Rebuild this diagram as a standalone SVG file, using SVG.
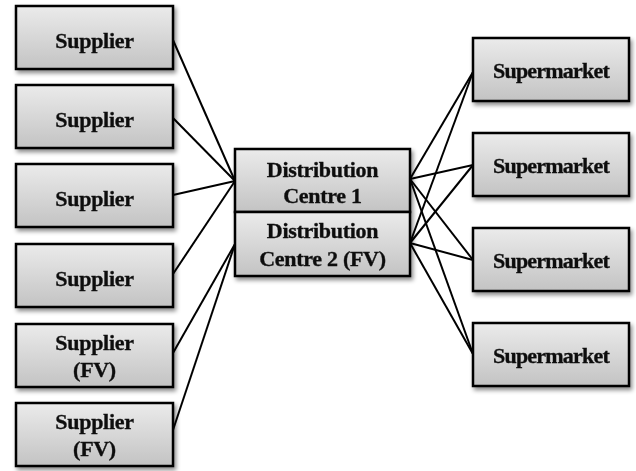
<svg xmlns="http://www.w3.org/2000/svg" width="636" height="471" viewBox="0 0 636 471">
<defs>
<linearGradient id="g" x1="0" y1="0" x2="0" y2="1">
<stop offset="0" stop-color="#ebebeb"/>
<stop offset="1" stop-color="#c3c3c3"/>
</linearGradient>
<filter id="sh" x="-10%" y="-10%" width="130%" height="140%">
<feDropShadow dx="2" dy="3" stdDeviation="2" flood-color="#000" flood-opacity="0.45"/>
</filter>
</defs>
<style>
.box{fill:url(#g);stroke:#000;stroke-width:2.5}
.t{font-family:"Liberation Serif",serif;font-weight:bold;font-size:22px;fill:#111;stroke:#111;stroke-width:0.35;text-anchor:middle;letter-spacing:-0.3px}
.m{letter-spacing:-0.8px}
.c{stroke:#000;stroke-width:2;fill:none}
</style>
<rect width="636" height="471" fill="#fff"/>
<g id="connectors">
<line class="c" x1="173" y1="40" x2="235" y2="181"/>
<line class="c" x1="173" y1="118" x2="235" y2="181"/>
<line class="c" x1="173" y1="195" x2="235" y2="181"/>
<line class="c" x1="173" y1="274" x2="235" y2="181"/>
<line class="c" x1="173" y1="353" x2="235" y2="244"/>
<line class="c" x1="173" y1="430" x2="235" y2="244"/>
<line class="c" x1="410" y1="179" x2="473" y2="72"/>
<line class="c" x1="410" y1="179" x2="473" y2="165"/>
<line class="c" x1="410" y1="179" x2="473" y2="260"/>
<line class="c" x1="410" y1="179" x2="473" y2="354"/>
<line class="c" x1="410" y1="243" x2="473" y2="72"/>
<line class="c" x1="410" y1="243" x2="473" y2="165"/>
<line class="c" x1="410" y1="243" x2="473" y2="260"/>
<line class="c" x1="410" y1="243" x2="473" y2="354"/>
</g>
<g id="supplier1" filter="url(#sh)"><rect class="box" x="16" y="6" width="157" height="63"/><text class="t" x="94.5" y="48">Supplier</text></g>
<g id="supplier2" filter="url(#sh)"><rect class="box" x="16" y="85" width="157" height="63"/><text class="t" x="94.5" y="127">Supplier</text></g>
<g id="supplier3" filter="url(#sh)"><rect class="box" x="16" y="164" width="157" height="63"/><text class="t" x="94.5" y="206">Supplier</text></g>
<g id="supplier4" filter="url(#sh)"><rect class="box" x="16" y="244" width="157" height="63"/><text class="t" x="94.5" y="286">Supplier</text></g>
<g id="supplier5" filter="url(#sh)"><rect class="box" x="16" y="324" width="157" height="63"/><text class="t" x="94.5" y="350">Supplier</text><text class="t" x="94.5" y="377">(FV)</text></g>
<g id="supplier6" filter="url(#sh)"><rect class="box" x="16" y="403" width="157" height="63"/><text class="t" x="94.5" y="429">Supplier</text><text class="t" x="94.5" y="456">(FV)</text></g>
<g id="dc" filter="url(#sh)">
<rect class="box" x="235" y="149" width="175" height="63"/>
<rect class="box" x="235" y="212" width="175" height="64"/>
<text class="t" x="322.5" y="177">Distribution</text>
<text class="t" x="322.5" y="203">Centre 1</text>
<text class="t" x="322.5" y="238">Distribution</text>
<text class="t" x="322.5" y="266">Centre 2 (FV)</text>
</g>
<g id="supermarket1" filter="url(#sh)"><rect class="box" x="473" y="38" width="156" height="63"/><text class="t m" x="551" y="78">Supermarket</text></g>
<g id="supermarket2" filter="url(#sh)"><rect class="box" x="473" y="133" width="156" height="63"/><text class="t m" x="551" y="173">Supermarket</text></g>
<g id="supermarket3" filter="url(#sh)"><rect class="box" x="473" y="228" width="156" height="63"/><text class="t m" x="551" y="268">Supermarket</text></g>
<g id="supermarket4" filter="url(#sh)"><rect class="box" x="473" y="323" width="156" height="63"/><text class="t m" x="551" y="363">Supermarket</text></g>
</svg>
